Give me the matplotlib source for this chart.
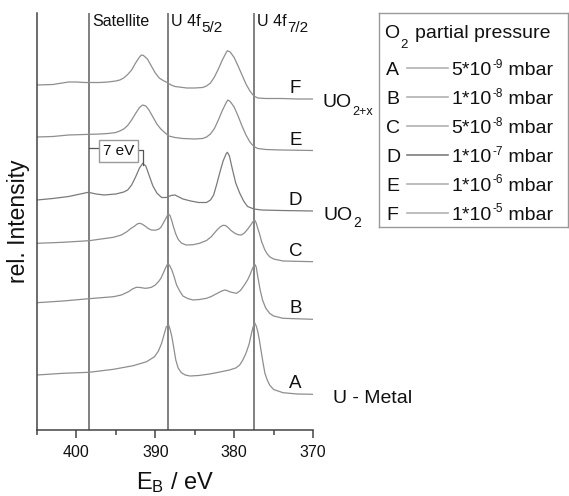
import matplotlib
matplotlib.use("Agg")
import matplotlib.pyplot as plt

plt.rcParams['font.family'] = ['Liberation Sans', 'DejaVu Sans']
plt.rcParams['mathtext.fontset'] = 'custom'
plt.rcParams['mathtext.rm'] = 'Liberation Sans'
plt.rcParams['mathtext.it'] = 'Liberation Sans:italic'
plt.rcParams['mathtext.bf'] = 'Liberation Sans:bold'
plt.rcParams['mathtext.default'] = 'regular'

# ---- U 4f XPS spectra (binding energy in eV, stacked intensity, arb. units) ----
e_A = [405, 401.7, 398.4, 395.3, 392.8, 391.1, 390.1, 389.6, 389.2, 388.9, 388.6, 388.3,
       388.1, 387.9, 387.65, 387.4, 387.1, 386.7, 386.2, 385.6, 384.5, 383.1, 381.8, 380.6,
       379.8, 379.3, 378.9, 378.5, 378.1, 377.8, 377.6, 377.4, 377.2, 377.0, 376.8, 376.6,
       376.35, 376.1, 375.8, 375.5, 375.0, 373.8, 372.0, 370.0]
i_A = [55, 56.7, 57.7, 60.7, 64.3, 68.3, 73.3, 79, 86.7, 95, 103.3, 105,
       100, 93.3, 82, 70, 62, 57.3, 55, 54, 54.5, 56, 58, 60,
       62, 65, 70, 76.7, 86, 96.7, 103, 107.3, 104, 98.3, 90, 80,
       68, 56.7, 50, 45, 40.5, 37.3, 36, 35.7]

e_B = [405, 401.7, 398.4, 395.3, 394.3, 393.4, 392.9, 392.4, 391.9, 391.3, 390.9, 390.5,
       390.0, 389.6, 389.3, 389.0, 388.7, 388.4, 388.15, 387.9, 387.6, 387.3, 386.9, 386.5,
       385.9, 385.2, 384.4, 383.5, 382.9, 382.3, 381.7, 381.2, 380.9, 380.6, 380.2, 379.7,
       379.2, 378.7, 378.3, 378.0, 377.7, 377.4, 377.2, 377.0, 376.7, 376.4, 376.0, 375.5,
       375.0, 373.8, 370.0]
i_B = [127.3, 129, 131.3, 133.3, 135, 138.3, 141, 142.7, 142.5, 141.7, 142, 142.7,
       145, 148.3, 151.5, 156.7, 162, 166.7, 164, 160, 153, 145, 139, 134,
       131.5, 130, 130.5, 131.7, 133.5, 136, 138.5, 140, 139.5, 138.3, 137.5, 136.7,
       139.5, 145, 150, 155, 161, 166, 163, 153.3, 140, 130, 122, 116.7,
       114, 111.7, 110.7]

e_C = [405, 401.7, 398.4, 395.3, 394.3, 393.6, 393.1, 392.6, 392.3, 392.0, 391.7, 391.3,
       390.9, 390.5, 390.0, 389.6, 389.3, 389.0, 388.7, 388.4, 388.3, 388.1, 387.9, 387.7,
       387.4, 387.1, 386.7, 386.1, 385.2, 384.4, 383.5, 382.9, 382.5, 382.1, 381.7, 381.4,
       381.1, 380.8, 380.4, 379.9, 379.5, 379.1, 378.7, 378.3, 377.9, 377.6, 377.4, 377.2,
       377.0, 376.8, 376.5, 376.1, 375.8, 375.5, 375.0, 373.8, 370.0]
i_C = [186.7, 187.7, 189.3, 192.7, 195, 198.3, 201.5, 204, 206, 206.7, 206, 204,
       201.5, 200, 199.8, 200.7, 202.5, 206.7, 211, 215.5, 216, 214, 209, 203.3,
       196, 190.7, 187, 185, 185.3, 186.7, 189.5, 193.3, 197, 200.7, 203.5, 204.7,
       204.5, 202.7, 199.5, 196.7, 195.3, 195, 197, 200.7, 205, 208.5, 210, 207,
       201.5, 196.7, 188, 180, 176, 173.3, 171, 169, 168.3]

e_D = [405, 403, 401, 399.5, 398.5, 397.5, 396.5, 395, 394, 393.5, 393, 392.5,
       392, 391.6, 391.2, 390.8, 390.3, 389.8, 389.2, 388.6, 388, 387.5, 387, 386.5,
       385.5, 384.5, 383.5, 383, 382.6, 382.2, 381.8, 381.4, 381, 380.85, 380.6, 380.2,
       379.8, 379.3, 378.8, 378.3, 377.5, 376.5, 374, 370]
i_D = [230, 231.5, 233.5, 236, 237.7, 236, 235, 236, 238, 240, 245, 253,
       262, 266.7, 264, 255, 244, 237, 232.5, 232.5, 234.5, 235, 233, 231,
       229, 227.5, 227.5, 230, 235, 246, 258, 269, 276.5, 277.7, 274, 260,
       247, 237, 229, 223.5, 221, 220, 219.5, 219]

e_E = [405, 403, 401, 399, 397, 396, 395, 394.5, 394, 393.5, 393, 392.5,
       392, 391.6, 391.2, 390.8, 390.3, 389.8, 389.3, 388.8, 388.3, 387.5, 386.5, 385,
       384, 383.5, 383, 382.5, 382, 381.5, 381, 380.8, 380.5, 380, 379.5, 379,
       378.5, 378, 377.5, 377, 376, 374, 370]
i_E = [293, 293.5, 295, 295.5, 296, 296.5, 297.5, 299, 301, 304.5, 310, 316.5,
       322.5, 325, 324, 320, 313, 306, 301, 297.5, 294, 292.5, 291.5, 291,
       291.5, 293, 296, 301.5, 310, 319.5, 327.5, 330, 328.5, 323, 314, 304,
       295, 288, 283.5, 281.5, 280.5, 280, 279.5]

e_F = [405, 403, 401, 400, 399, 398, 397, 396, 395, 394.5, 394, 393.5,
       393, 392.5, 392, 391.75, 391.5, 391, 390.5, 390, 389.5, 389, 388.5, 388,
       387.5, 387, 386, 385, 384, 383.5, 383, 382.5, 382, 381.5, 381, 380.85,
       380.5, 380, 379.5, 379, 378.5, 378, 377.5, 377, 376, 374, 372, 370]
i_F = [345, 345.5, 348, 348, 347.5, 347.5, 347.5, 348, 349, 350, 352, 355.5,
       360, 367, 373, 375, 374.5, 371, 364, 357, 352, 349.5, 347.5, 345,
       343.5, 343, 342, 342, 342.5, 344, 347, 353, 361, 370, 377.5, 379.3,
       378, 372.5, 364, 355, 346, 339, 334, 332, 331.5, 331.5, 331, 331]

curve_names = ['A', 'B', 'C', 'D', 'E', 'F']
press_mantissa = ['5', '1', '5', '1', '1', '1']
press_exponent = ['-9', '-8', '-8', '-7', '-6', '-5']
energies = [e_A, e_B, e_C, e_D, e_E, e_F]
intensities = [i_A, i_B, i_C, i_D, i_E, i_F]

# reference binding energies (eV) and their labels (main part, subscript)
ref_lines = [398.4, 388.45, 377.5]
ref_labels = [('Satellite', ''), ('U 4f', '5/2'), ('U 4f', '7/2')]

curve_colors = ['#8e8e8e', '#8e8e8e', '#8e8e8e', '#7a7a7a', '#8e8e8e', '#8e8e8e']
key_colors = ['#b2b2b2', '#b2b2b2', '#b2b2b2', '#7e7e7e', '#b2b2b2', '#b2b2b2']
INK = '#111111'


def with_sub(axis, x, y, main, sub, size, sub_size, drop, gap=0.5):
    """Text with a smaller subscript attached to its right edge."""
    t = axis.text(x, y, main, ha='left', va='baseline', fontsize=size, color=INK)
    if sub:
        axis.annotate(sub, xy=(1, 0), xycoords=t, xytext=(gap, -drop),
                      textcoords='offset points', ha='left', va='baseline',
                      fontsize=sub_size, color=INK)
    return t


W, H = 569, 496
fig = plt.figure(figsize=(W / 100, H / 100), dpi=100)
ax = fig.add_axes([37 / W, 1 - 430 / H, 276 / W, 417 / H])
ax.set_xlim(405, 370)
ax.set_ylim(0, 417)

for e in ref_lines:
    ax.axvline(e, color='#5e5e5e', lw=1.1, zorder=1)
for e, (main, sub) in zip(ref_lines, ref_labels):
    with_sub(ax, e - 0.45, 404, main, sub, 11.5, 11, 1.9)

for name, E, I, col in zip(curve_names, energies, intensities, curve_colors):
    ax.plot(E, I, color=col, lw=0.9, zorder=2)
    ax.text(372.2, I[-1] + 10.5, name, ha='center', va='center', fontsize=13.5, color=INK)

# phase labels next to the spectra
with_sub(ax, 368.8, i_F[-1] - 8.3, 'UO', '2+x', 14, 9, 2.6, gap=0.8)
with_sub(ax, 368.7, i_D[-1] - 9.0, 'UO', '2', 14, 10, 1.9, gap=0.5)
ax.text(367.5, i_A[-1] - 8.4, 'U - Metal', ha='left', va='baseline', fontsize=14, color=INK)

# 7 eV distance between satellite and UO2 main line
peak_D = e_D[i_D.index(max(i_D[:20]))]
ax.plot([ref_lines[0], 397.1], [281.7, 281.7], color='#555555', lw=0.9)
ax.plot([392.3, peak_D, peak_D], [280, 280, 265], color='#555555', lw=0.9)
ax.text(394.7, 279, '7 eV', ha='center', va='center', fontsize=11, color=INK,
        bbox=dict(boxstyle='square,pad=0.25', fc='white', ec='#999999', lw=1.0))

for s in ['top', 'right']:
    ax.spines[s].set_visible(False)
for s in ['left', 'bottom']:
    ax.spines[s].set_color('#444444')
    ax.spines[s].set_linewidth(1.1)
ax.set_xticks([400, 390, 380, 370])
ax.set_xticks([405, 395, 385, 375], minor=True)
ax.set_yticks([])
ax.tick_params(axis='x', which='major', length=6, width=1.1, color='#444444',
               labelsize=11.5, pad=5, labelcolor=INK)
ax.tick_params(axis='x', which='minor', length=3.5, width=1.1, color='#444444')
ax.set_xlabel('E$_B$ / eV', fontsize=17, labelpad=7, color=INK)
ax.set_ylabel('rel. Intensity', fontsize=16.5, labelpad=5, color=INK)

# legend box
lax = fig.add_axes([379.3 / W, 1 - 227.3 / H, 189 / W, 214.6 / H])
lax.set_xlim(0, 189)
lax.set_ylim(214.6, 0)
lax.set_xticks([])
lax.set_yticks([])
for s in lax.spines.values():
    s.set_color('#999999')
    s.set_linewidth(1.0)
with_sub(lax, 4.7, 25.3, 'O', '2', 14, 9.5, 4.0, gap=0.6)
lax.text(35.5, 25.3, 'partial pressure', ha='left', va='baseline', fontsize=14, color=INK)
for k, (name, m, ex, col) in enumerate(zip(curve_names, press_mantissa, press_exponent, key_colors)):
    y = 55.6 + 28.9 * k
    lax.text(6.7, y + 6.7, name, ha='left', va='baseline', fontsize=14, color=INK)
    lax.plot([27.4, 69], [y, y], color=col, lw=1.2)
    t1 = lax.text(72.4, y + 6.7, m + '*10', ha='left', va='baseline', fontsize=14, color=INK)
    t2 = lax.annotate(ex, xy=(1, 1), xycoords=t1, xytext=(0.4, 2.3),
                      textcoords='offset points', ha='left', va='top', fontsize=8.5, color=INK)
    lax.annotate(' mbar', xy=(1, 0), xycoords=(t2, t1), ha='left', va='bottom',
                 fontsize=14, color=INK)

fig.savefig('out.png', dpi=100)
